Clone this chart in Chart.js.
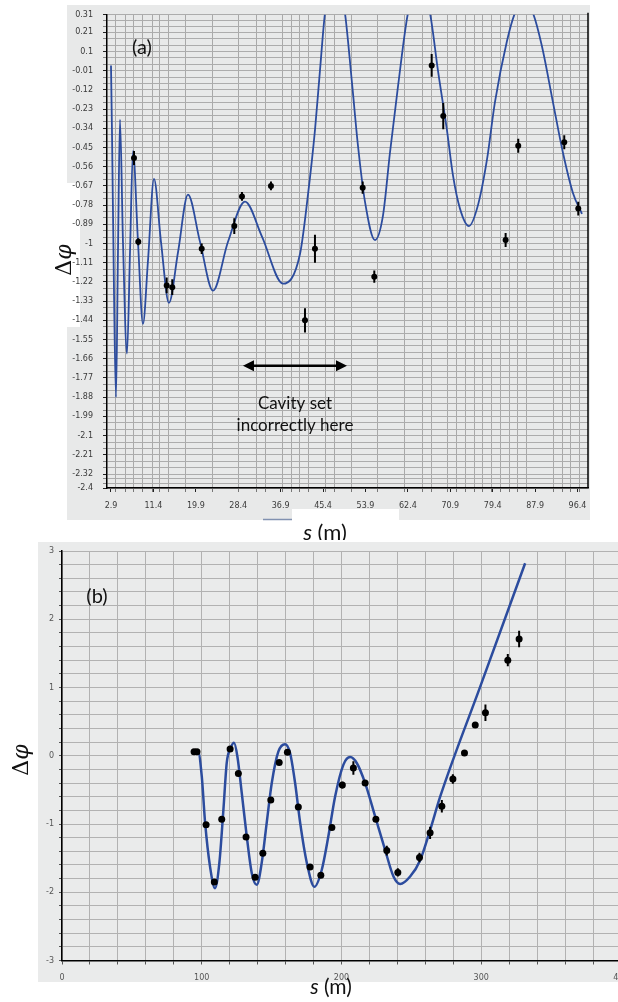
<!DOCTYPE html>
<html>
<head>
<meta charset="utf-8">
<script src="https://cdn.jsdelivr.net/npm/chart.js@4.4.1/dist/chart.umd.min.js"></script>
<style>
  html, body { margin: 0; padding: 0; background: #fff; overflow: hidden; width: 618px; height: 1002px; }
  #wrapA { position: absolute; left: 0; top: 0; }
  #wrapB { position: absolute; left: 0; top: 540px; }
</style>
</head>
<body>
<div id="wrapA"><canvas id="chartA" width="618" height="540"></canvas></div>
<div id="wrapB"><canvas id="chartB" width="640" height="462"></canvas></div>
<script>
// ---- panel (a) ----
const sCurveA = [2.9, 3.1, 3.5, 3.9, 4.3, 4.7, 5.3, 6.11, 6.71, 7.31, 8.31, 9.31, 10.31, 11.52, 12.92, 14.52,
  16.33, 18.33, 20.74, 23.34, 26.35, 29.75, 33.16, 37.37, 40.78, 42.38, 43.78, 44.78, 45.79, 47.79, 49.79,
  51.2, 52.4, 53.8, 55.81, 57.41, 58.81, 60.42, 62.42, 64.62, 66.83, 68.43, 70.23, 71.44, 72.84, 74.64,
  76.45, 78.25, 79.85, 82.26, 83.86, 85.66, 87.47, 89.27, 91.47, 93.48, 95.48, 97.29];
const phiCurveA = [0.02, -0.36, -1.27, -1.88, -1.05, -0.29, -0.99, -1.63, -1.05, -0.47, -0.99, -1.46, -1.10, -0.63, -0.99, -1.34,
  -1.05, -0.72, -0.99, -1.27, -0.99, -0.76, -0.96, -1.23, -1.06, -0.72, -0.35, -0.01, 0.32, 0.6, 0.32,
  -0.08, -0.44, -0.76, -0.98, -0.84, -0.48, -0.10, 0.32, 0.5, 0.32, -0.01, -0.35, -0.61, -0.80, -0.90,
  -0.78, -0.52, -0.19, 0.16, 0.32, 0.4, 0.32, 0.13, -0.19, -0.48, -0.71, -0.83];
const sPtsA = [7.51, 8.37, 14.06, 15.18, 21.08, 27.61, 29.15, 34.96, 41.78, 43.78, 53.34, 55.67, 67.17, 69.49, 81.99, 84.52, 93.74, 96.55];
const phiPtsA = [-0.51, -0.99, -1.24, -1.25, -1.03, -0.90, -0.73, -0.67, -1.44, -1.03, -0.68, -1.19, 0.02, -0.27, -0.98, -0.44, -0.42, -0.80];
const errPtsA = [0.04, 0.02, 0.045, 0.045, 0.03, 0.045, 0.025, 0.025, 0.07, 0.08, 0.035, 0.035, 0.065, 0.075, 0.04, 0.04, 0.04, 0.04];
const xTicksA = [2.9, 11.4, 19.9, 28.4, 36.9, 45.4, 53.9, 62.4, 70.9, 79.4, 87.9, 96.4];
const xGridA = [3.9, 5.71, 7.51, 9.31, 11.12, 12.72, 14.52, 17.93, 23.34, 28.55, 32.16, 33.96, 37.37, 39.17, 40.78,
  42.58, 45.99, 47.79, 51.2, 56.41, 61.82, 65.43, 67.23, 70.43, 72.24, 74.04, 75.84, 77.45, 79.25, 81.05,
  82.86, 84.46, 86.27, 91.68, 93.48, 95.08, 96.89];
const yTicksA = [0.31, 0.21, 0.1, -0.01, -0.12, -0.23, -0.34, -0.45, -0.56, -0.67, -0.78, -0.89, -1, -1.11, -1.22,
  -1.33, -1.44, -1.55, -1.66, -1.77, -1.88, -1.99, -2.1, -2.21, -2.32, -2.4];
const arrowSpanA = [29.35, 50.2];
const arrowPhiA = -1.70;

// ---- panel (b) ----
const sCurveB = [93.8, 97.4, 100.0, 102.4, 105.9, 109.5, 112.6, 115.5, 117.9, 120.8, 123.1, 125.5, 128.6, 132.2,
  135.8, 139.4, 142.9, 146.5, 150.1, 154.8, 159.6, 163.2, 166.8, 170.4, 175.2, 180.6, 185.9, 190.6, 195.4,
  201.4, 206.2, 211.0, 216.9, 224.1, 231.2, 237.2, 242.0, 249.1, 256.3, 263.4, 270.6, 299.2, 331.4];
const phiCurveB = [0.06, 0.06, -0.30, -0.98, -1.62, -1.94, -1.57, -0.79, -0.10, 0.12, 0.19, -0.01, -0.54, -1.18,
  -1.72, -1.89, -1.57, -0.98, -0.40, 0.06, 0.17, 0.04, -0.40, -0.98, -1.57, -1.92, -1.67, -1.18, -0.60,
  -0.13, -0.02, -0.11, -0.40, -0.89, -1.38, -1.77, -1.88, -1.77, -1.53, -1.09, -0.60, 1.01, 2.82];
const sPtsB = [94.5, 96.6, 103.1, 109.0, 114.3, 120.3, 126.2, 131.7, 138.2, 143.7, 149.4, 155.4, 161.3, 169.1, 177.5,
  185.2, 193.1, 200.6, 208.5, 216.9, 224.6, 232.4, 240.3, 255.8, 263.4, 271.8, 279.7, 288.0, 295.7, 303.0, 319.0, 327.1];
const phiPtsB = [0.06, 0.06, -1.01, -1.85, -0.93, 0.10, -0.26, -1.19, -1.78, -1.43, -0.65, -0.10, 0.05, -0.75, -1.63,
  -1.75, -1.05, -0.43, -0.18, -0.40, -0.93, -1.39, -1.71, -1.49, -1.13, -0.74, -0.34, 0.04, 0.45, 0.63, 1.40, 1.71];
const errPtsB = [0.03, 0.03, 0.03, 0.04, 0.03, 0.03, 0.03, 0.03, 0.04, 0.03, 0.03, 0.03, 0.04, 0.03, 0.03,
  0.03, 0.03, 0.05, 0.1, 0.04, 0.04, 0.07, 0.06, 0.07, 0.09, 0.09, 0.07, 0.03, 0.03, 0.12, 0.09, 0.12];
const xTicksB = [0, 100, 200, 300, 400];
const yTicksB = [-3, -2, -1, 0, 1, 2, 3];

const blue = '#2c4c9e';
const toXY = (xs, ys) => xs.map((x, i) => ({ x, y: ys[i] }));

const errorBars = {
  id: 'errorBars',
  afterDatasetsDraw(chart) {
    const { ctx, chartArea: a, scales: { y } } = chart;
    ctx.save();
    ctx.beginPath();
    ctx.rect(a.left, a.top, a.width, a.height);
    ctx.clip();
    ctx.strokeStyle = '#000';
    ctx.lineWidth = 2;
    chart.data.datasets.forEach((ds, di) => {
      if (!ds.errors) return;
      chart.getDatasetMeta(di).data.forEach((pt, i) => {
        const v = ds.data[i].y, e = ds.errors[i];
        ctx.beginPath();
        ctx.moveTo(pt.x, y.getPixelForValue(v + e));
        ctx.lineTo(pt.x, y.getPixelForValue(v - e));
        ctx.stroke();
      });
    });
    ctx.restore();
  }
};

function axisLabelS(ctx, cx, cy, size) {
  ctx.textBaseline = 'middle';
  ctx.textAlign = 'left';
  ctx.font = 'italic ' + size + 'px Lato';
  const w1 = ctx.measureText('s').width;
  ctx.font = size + 'px Lato';
  const w2 = ctx.measureText(' (m)').width;
  const x0 = cx - (w1 + w2) / 2;
  ctx.font = 'italic ' + size + 'px Lato';
  ctx.fillText('s', x0, cy);
  ctx.font = size + 'px Lato';
  ctx.fillText(' (m)', x0 + w1, cy);
}

function axisLabelPhi(ctx, cx, cy, size) {
  ctx.save();
  ctx.translate(cx, cy);
  ctx.rotate(-Math.PI / 2);
  ctx.textBaseline = 'middle';
  ctx.textAlign = 'left';
  ctx.font = size + 'px "DejaVu Serif"';
  const w1 = ctx.measureText('Δ').width;
  ctx.font = 'italic ' + size + 'px "DejaVu Serif"';
  const w2 = ctx.measureText('φ').width;
  const x0 = -(w1 + w2) / 2;
  ctx.font = size + 'px "DejaVu Serif"';
  ctx.fillText('Δ', x0, 0);
  ctx.font = 'italic ' + size + 'px "DejaVu Serif"';
  ctx.fillText('φ', x0 + w1, 0);
  ctx.restore();
}

const panelA = {
  id: 'panelA',
  beforeDraw(chart) {
    const { ctx } = chart;
    ctx.save();
    ctx.fillStyle = '#e8e9e9';
    ctx.fillRect(67, 5, 523, 515);
    ctx.fillStyle = '#fff';
    ctx.fillRect(55, 183, 25, 144);
    ctx.fillRect(292, 509, 107, 12);
    ctx.strokeStyle = '#8191b0';
    ctx.lineWidth = 1.5;
    ctx.beginPath();
    ctx.moveTo(263, 519.5);
    ctx.lineTo(292, 519.5);
    ctx.stroke();
    ctx.restore();
  },
  afterDraw(chart) {
    const { ctx, chartArea: a, scales: { x, y } } = chart;
    ctx.save();
    ctx.strokeStyle = '#000';
    ctx.lineWidth = 1.5;
    ctx.beginPath();
    ctx.moveTo(a.right, a.top - 2);
    ctx.lineTo(a.right, a.bottom);
    ctx.stroke();

    // double arrow
    const x1 = x.getPixelForValue(arrowSpanA[0]);
    const x2 = x.getPixelForValue(arrowSpanA[1]);
    const ya = y.getPixelForValue(arrowPhiA);
    ctx.fillStyle = '#000';
    ctx.lineWidth = 2.5;
    ctx.beginPath();
    ctx.moveTo(x1 + 6, ya);
    ctx.lineTo(x2 - 6, ya);
    ctx.stroke();
    ctx.beginPath();
    ctx.moveTo(x1, ya); ctx.lineTo(x1 + 11, ya - 5.5); ctx.lineTo(x1 + 11, ya + 5.5); ctx.closePath();
    ctx.moveTo(x2, ya); ctx.lineTo(x2 - 11, ya - 5.5); ctx.lineTo(x2 - 11, ya + 5.5); ctx.closePath();
    ctx.fill();

    ctx.fillStyle = '#111';
    ctx.font = '17px Lato';
    ctx.textAlign = 'center';
    ctx.textBaseline = 'middle';
    const xc = (x1 + x2) / 2;
    ctx.fillText('Cavity set', xc, ya + 38);
    ctx.fillText('incorrectly here', xc, ya + 60);

    ctx.font = '20px Lato';
    ctx.fillText('(a)', 142, 48);

    axisLabelS(ctx, 325, 533, 22);
    axisLabelPhi(ctx, 65, 260, 22);
    ctx.restore();
  }
};

const panelB = {
  id: 'panelB',
  beforeDraw(chart) {
    const { ctx } = chart;
    ctx.save();
    ctx.fillStyle = '#eaebeb';
    ctx.fillRect(38, 2, 602, 440);
    ctx.restore();
  },
  afterDraw(chart) {
    const { ctx } = chart;
    ctx.save();
    ctx.fillStyle = '#111';
    ctx.font = '20px Lato';
    ctx.textAlign = 'center';
    ctx.textBaseline = 'middle';
    ctx.fillText('(b)', 97, 57);
    axisLabelS(ctx, 331, 447, 21);
    axisLabelPhi(ctx, 22, 220, 22);
    ctx.restore();
  }
};

const tickFont = { family: 'DejaVu Sans', size: 8 };

new Chart(document.getElementById('chartA'), {
  type: 'line',
  data: {
    datasets: [
      { data: toXY(sCurveA, phiCurveA), borderColor: blue, borderWidth: 1.8, pointRadius: 0,
        cubicInterpolationMode: 'monotone', order: 2 },
      { data: toXY(sPtsA, phiPtsA), errors: errPtsA, showLine: false, pointRadius: 3,
        backgroundColor: '#000', borderColor: '#000', borderWidth: 0, order: 1 }
    ]
  },
  options: {
    responsive: false,
    animation: false,
    layout: { padding: { left: 0, top: 11, right: 30, bottom: 0 } },
    plugins: { legend: { display: false }, tooltip: { enabled: false } },
    scales: {
      x: {
        type: 'linear', min: 2.1, max: 98.5,
        afterFit: s => { s.height = 52; },
        afterBuildTicks: axis => {
          const vals = [...xTicksA, ...xGridA].sort((p, q) => p - q);
          axis.ticks = vals.map(value => ({ value }));
        },
        grid: {
          color: c => xGridA.includes(c.tick.value) ? '#a9a9a9' : 'rgba(0,0,0,0)',
          tickColor: c => xTicksA.includes(c.tick.value) ? '#222' : '#777',
          tickLength: 4
        },
        border: { color: '#000', width: 1.5 },
        ticks: {
          autoSkip: false, maxRotation: 0, padding: 9, color: '#3a3a3a', font: tickFont,
          callback: v => xTicksA.includes(v) ? String(v) : ''
        }
      },
      y: {
        type: 'linear', min: -2.4, max: 0.31,
        afterFit: s => { s.width = 107; },
        afterBuildTicks: axis => {
          const majors = [...yTicksA].sort((p, q) => p - q);
          const vals = [];
          majors.forEach((v, i) => {
            vals.push(v);
            if (i < majors.length - 1) {
              const st = (majors[i + 1] - v) / 3;
              vals.push(v + st, v + 2 * st);
            }
          });
          axis.ticks = vals.map(value => ({ value }));
        },
        grid: {
          color: '#acacac',
          tickColor: c => yTicksA.includes(c.tick.value) ? '#222' : '#888',
          tickLength: 4
        },
        border: { color: '#000', width: 1.5 },
        ticks: {
          autoSkip: false, padding: 10, color: '#3a3a3a', font: tickFont,
          callback: v => yTicksA.includes(v) ? String(v) : ''
        }
      }
    }
  },
  plugins: [panelA, errorBars]
});

const isMajorB = v => yTicksB.some(t => Math.abs(t - v) < 1e-6);

new Chart(document.getElementById('chartB'), {
  type: 'line',
  data: {
    datasets: [
      { data: toXY(sCurveB, phiCurveB), borderColor: blue, borderWidth: 2.5, pointRadius: 0,
        cubicInterpolationMode: 'monotone', order: 2 },
      { data: toXY(sPtsB, phiPtsB), errors: errPtsB, showLine: false, pointRadius: 3.5,
        backgroundColor: '#000', borderColor: '#000', borderWidth: 0, order: 1 }
    ]
  },
  options: {
    responsive: false,
    animation: false,
    layout: { padding: { left: 0, top: 11, right: 19, bottom: 0 } },
    plugins: { legend: { display: false }, tooltip: { enabled: false } },
    scales: {
      x: {
        type: 'linear', min: 0, max: 400,
        afterFit: s => { s.height = 41.5; },
        grid: { color: '#b2b2b2', tickColor: '#555', tickLength: 4 },
        border: { color: '#000', width: 1.5 },
        ticks: {
          stepSize: 20, autoSkip: false, maxRotation: 0, padding: 9, color: '#555', font: tickFont,
          callback: v => xTicksB.includes(v) ? String(v) : ''
        }
      },
      y: {
        type: 'linear', min: -3, max: 3,
        afterFit: s => { s.width = 62; },
        grid: { color: '#b2b2b2', tickColor: '#555', tickLength: 3 },
        border: { color: '#000', width: 1.5 },
        ticks: {
          stepSize: 0.2, autoSkip: false, padding: 5, color: '#555', font: tickFont,
          callback: v => isMajorB(v) ? String(Math.round(v)) : ''
        }
      }
    }
  },
  plugins: [panelB, errorBars]
});
</script>
</body>
</html>
